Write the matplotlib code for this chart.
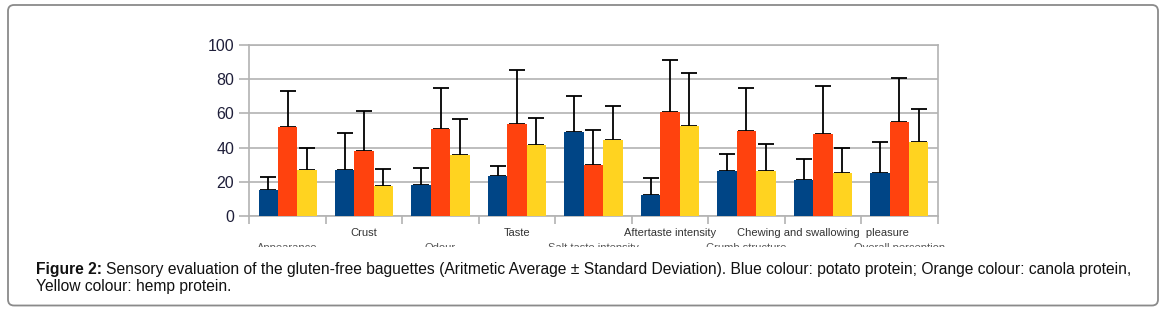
import matplotlib
matplotlib.use("Agg")
import matplotlib.pyplot as plt
import numpy as np
from matplotlib.patches import FancyBboxPatch
from matplotlib.transforms import IdentityTransform, Bbox, TransformedBbox

categories = ["Appearance", "Crust", "Odour", "Taste", "Salt taste intensity",
              "Aftertaste intensity", "Crumb structure",
              "Chewing and swallowing  pleasure", "Overall perception"]
potato = [15, 26.6, 17.8, 23.1, 48.9, 11.9, 26, 20.7, 25.2]
potato_sd = [8, 21.9, 10.4, 6.3, 21.2, 10.2, 10, 12.4, 18.2]
canola = [51.9, 37.8, 51.1, 53.8, 29.7, 60.7, 49.7, 48.1, 54.8]
canola_sd = [21.1, 23.5, 24, 31.7, 20.6, 30.7, 25.4, 28, 26.2]
hemp = [26.6, 17.2, 35.6, 41.5, 44.4, 52.4, 26, 25.2, 43.1]
hemp_sd = [13.3, 10, 21.2, 16, 19.8, 31.6, 15.9, 14.7, 19.5]
yticks = [0, 20, 40, 60, 80, 100]

colors = ["#004586", "#FF420E", "#FFD320"]
grid_c = "#b3b3b3"

plt.rcParams['font.family'] = ['Liberation Sans', 'DejaVu Sans']

W, H = 1165, 313
fig = plt.figure(figsize=(W / 100, H / 100), dpi=100)
ax = fig.add_axes([249.3 / W, 1 - 215.7 / H, 688.4 / W, 170.4 / H])

x = np.arange(len(categories)) + 0.5
bw = 0.253
series = [(potato, potato_sd), (canola, canola_sd), (hemp, hemp_sd)]
for i, ((vals, sd), c) in enumerate(zip(series, colors)):
    xs = x + (i - 1) * bw
    ax.bar(xs, vals, width=bw, color=c, zorder=3)
    ax.errorbar(xs, vals, yerr=[np.zeros(len(vals)), sd], fmt='none',
                ecolor='black', elinewidth=1.3, capsize=5.5, capthick=1.3,
                zorder=2)

ax.set_xlim(0, len(categories))
ax.set_ylim(0, 100)
ax.set_yticks(yticks)
ax.set_yticklabels([str(v) for v in yticks], fontsize=11.5, color='#1f1f3a')
ax.yaxis.grid(True, color=grid_c, linewidth=1.2, zorder=0)
ax.set_axisbelow(True)
ax.tick_params(axis='y', length=7, width=1.2, color=grid_c, pad=4)
ax.set_xticks(np.arange(len(categories) + 1))
ax.set_xticklabels([])
ax.tick_params(axis='x', length=6, width=1.2, color=grid_c)
for s in ax.spines.values():
    s.set_color(grid_c)
    s.set_linewidth(1.2)

clip = TransformedBbox(Bbox.from_extents(0, 1 - 246.5 / H, 1, 1), fig.transFigure)
for i, lab in enumerate(categories):
    if i % 2 == 1:
        ax.text(x[i], -0.100, lab, transform=ax.get_xaxis_transform(),
                ha='center', va='center', fontsize=8, color='#333333')
    else:
        t = ax.text(x[i], -0.190, lab, transform=ax.get_xaxis_transform(),
                    ha='center', va='center', fontsize=8, color='#555555')
        t.set_clip_on(True)
        t.set_clip_box(clip)

# border
border = FancyBboxPatch((8, 313 - 305.5), 1150, 300.5,
                        boxstyle="round,pad=0,rounding_size=6",
                        transform=IdentityTransform(), facecolor='none',
                        edgecolor='#8a8a8a', linewidth=1.3)
fig.patches.append(border)

# caption
fs = 11.25
y1 = 1 - 274 / H
y2 = 1 - 291 / H
x0 = 36 / W
tb = fig.text(x0, y1, "Figure 2:", fontsize=fs, fontweight='bold', color='#111111',
              va='baseline')
fig.canvas.draw()
r = fig.canvas.get_renderer()
ext = tb.get_window_extent(r)
fig.text((ext.x1 + 3.5) / W, y1,
         "Sensory evaluation of the gluten-free baguettes (Aritmetic Average ± Standard Deviation). "
         "Blue colour: potato protein; Orange colour: canola protein,",
         fontsize=fs, color='#111111', va='baseline')
fig.text(x0, y2, "Yellow colour: hemp protein.", fontsize=fs, color='#111111',
         va='baseline')

fig.savefig("out.png", dpi=100)
